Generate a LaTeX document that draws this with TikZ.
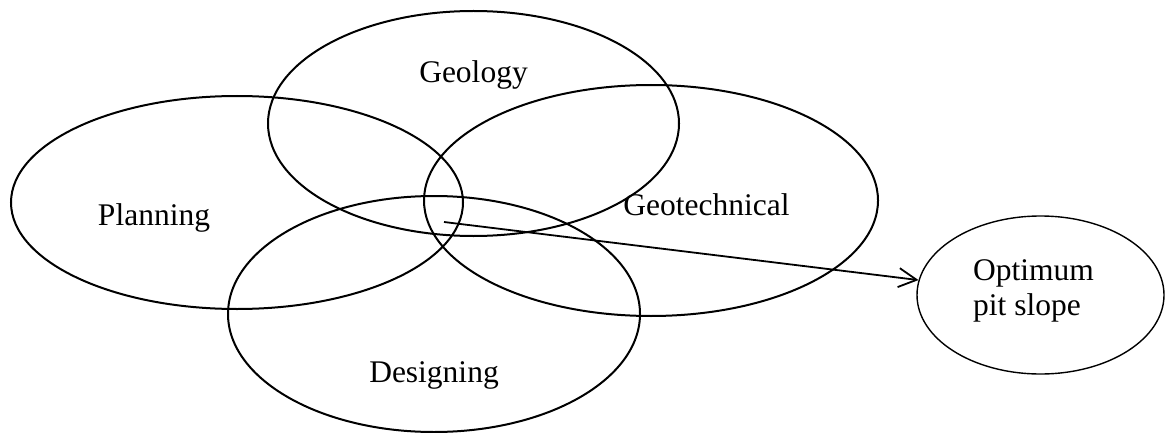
\documentclass[tikz,border=0pt]{standalone}
\usepackage{fontspec}
\setmainfont{Liberation Serif}
\usetikzlibrary{arrows.meta,shapes.geometric}
\begin{document}
\begin{tikzpicture}[x=1pt,y=-1pt,
  ell/.style={draw, ellipse, line width=2pt, inner sep=0pt},
  lbl/.style={inner sep=0pt, font=\fontsize{31.5}{35.5}\selectfont},
  flow/.style={line width=1.8pt, -{Straight Barb[length=18pt,width=19pt,line width=1.8pt]}}]
\useasboundingbox (0,0) rectangle (1166,433);
\node[ell, minimum width=411pt, minimum height=225pt] (geo) at (473.5,123.5) {};
\node[ell, minimum width=452pt, minimum height=213pt] (plan) at (237,202.5) {};
\node[ell, minimum width=454pt, minimum height=231pt] (geot) at (651,200.5) {};
\node[ell, minimum width=412pt, minimum height=236pt] (des) at (434,314) {};
\node[ell, line width=1.4pt, minimum width=247pt, minimum height=158pt] (opt) at (1040.5,295) {};
\node[lbl, anchor=base] (tgeo) at (473.5,83) {Geology};
\node[lbl, anchor=base] (tplan) at (154,225) {Planning};
\node[lbl, anchor=base] (tdes) at (434,382) {Designing};
\node[lbl, anchor=base] (tgeot) at (706.5,215) {Geotechnical};
\node[lbl, anchor=west, align=left] (topt) at (973,291) {Optimum\\pit slope};
\coordinate (start) at (444,222);
\draw[flow] (start) -- (opt);
\end{tikzpicture}
\end{document}
